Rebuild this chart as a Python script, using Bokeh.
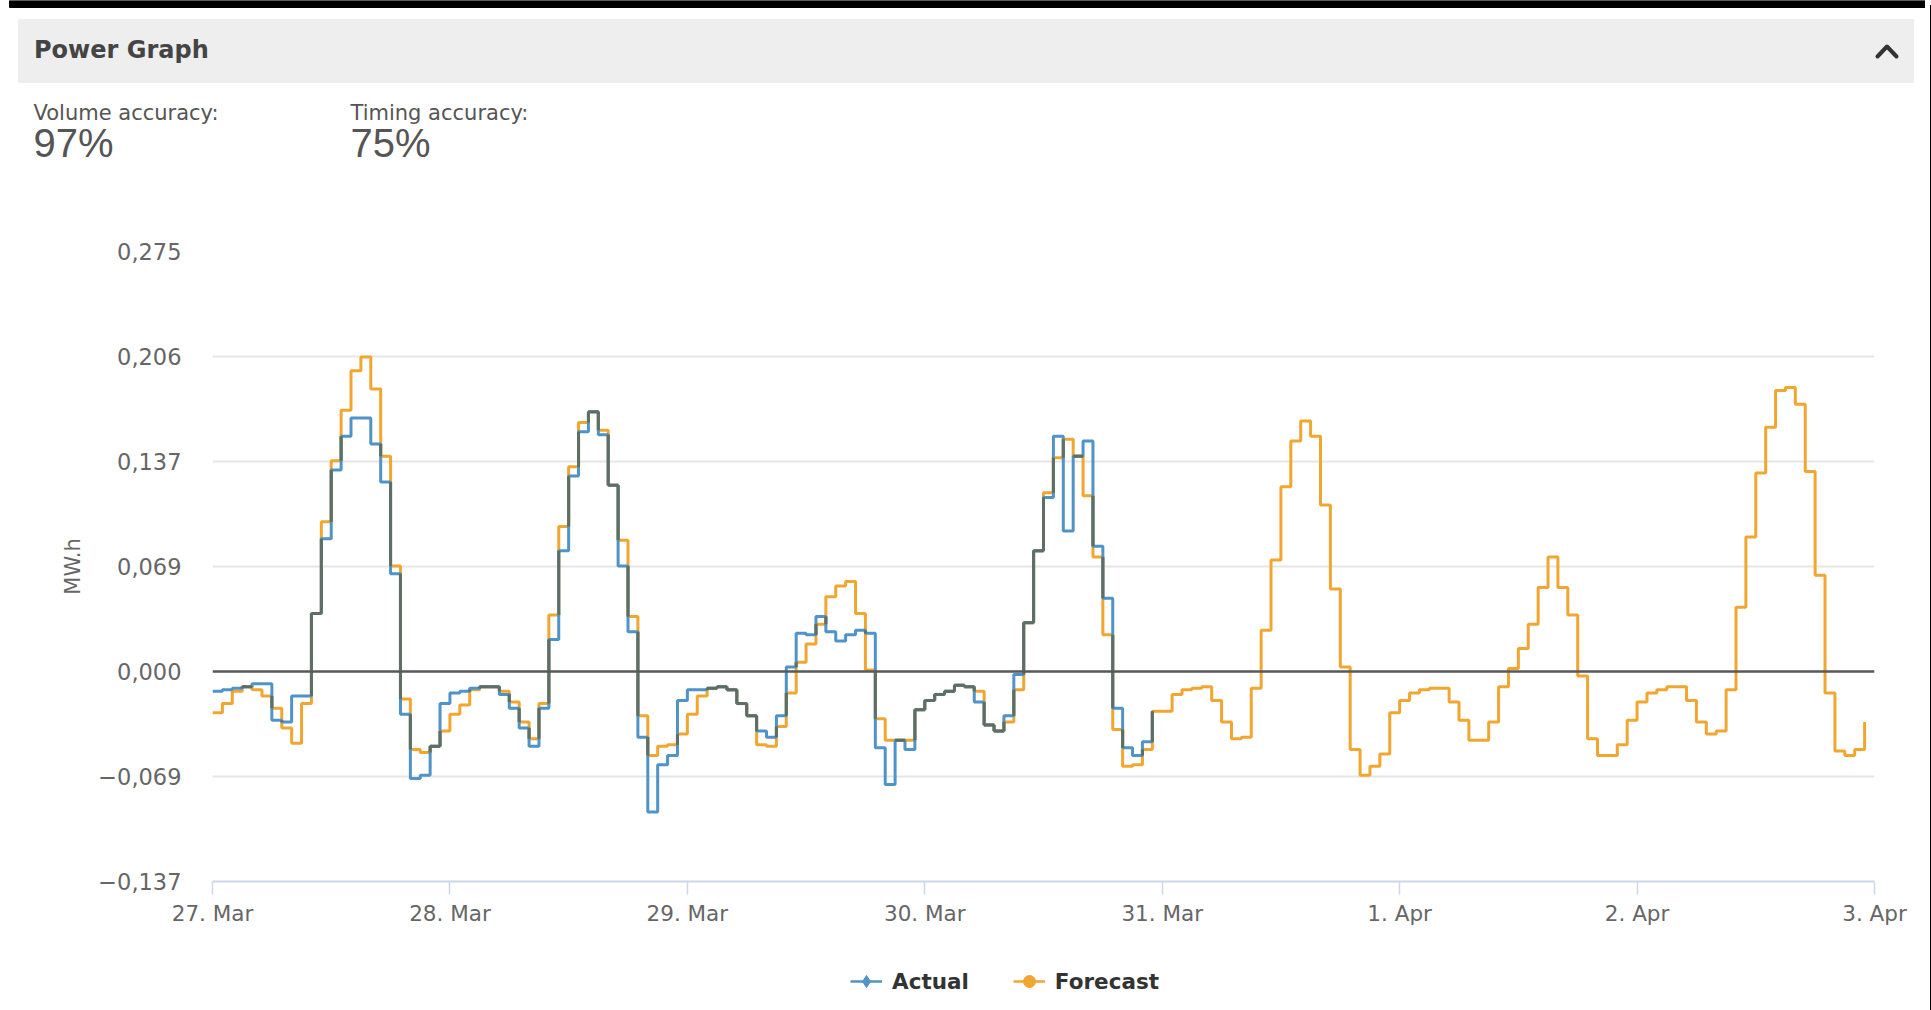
from bokeh.plotting import figure
from bokeh.models import Range1d, FixedTicker, Span, Legend, LegendItem, Div
from bokeh.layouts import column, row
from bokeh.embed import file_html
from bokeh.resources import INLINE
from bokeh.core.properties import value

# ---------------- data (MW.h, hourly from 27 Mar 00:00) ----------------
forecast = [
    -0.027, -0.021, -0.013, -0.010, -0.012, -0.016, -0.024, -0.037, -0.047, -0.021,
    0.038, 0.098, 0.138, 0.171, 0.197, 0.206, 0.185, 0.141, 0.069, -0.018,
    -0.051, -0.053, -0.049, -0.039,
    -0.028, -0.022, -0.012, -0.010, -0.010, -0.013, -0.020, -0.033, -0.044, -0.021,
    0.037, 0.095, 0.134, 0.163, 0.170, 0.158, 0.122, 0.086, 0.036, -0.029,
    -0.055, -0.049, -0.048, -0.041,
    -0.028, -0.016, -0.011, -0.010, -0.012, -0.021, -0.029, -0.048, -0.049, -0.036,
    -0.014, 0.006, 0.018, 0.031, 0.049, 0.056, 0.059, 0.038, 0.001, -0.031,
    -0.045, -0.045, -0.045, -0.025,
    -0.019, -0.015, -0.013, -0.009, -0.010, -0.013, -0.035, -0.039, -0.033, -0.012,
    0.032, 0.079, 0.117, 0.140, 0.152, 0.141, 0.115, 0.075, 0.024, -0.038,
    -0.062, -0.061, -0.051, -0.026,
    -0.026, -0.015, -0.012, -0.011, -0.010, -0.019, -0.033, -0.044, -0.043, -0.011,
    0.027, 0.073, 0.121, 0.151, 0.164, 0.154, 0.109, 0.054, 0.003, -0.051,
    -0.068, -0.062, -0.054, -0.027,
    -0.019, -0.014, -0.012, -0.011, -0.011, -0.020, -0.032, -0.045, -0.045, -0.033,
    -0.010, 0.002, 0.015, 0.031, 0.055, 0.075, 0.055, 0.037, -0.003, -0.044,
    -0.055, -0.055, -0.048, -0.032,
    -0.020, -0.014, -0.012, -0.010, -0.010, -0.019, -0.033, -0.041, -0.039, -0.012,
    0.042, 0.088, 0.130, 0.160, 0.184, 0.186, 0.175, 0.131, 0.063, -0.014,
    -0.052, -0.055, -0.051, -0.033,
]
actual = [
    -0.013, -0.012, -0.011, -0.010, -0.008, -0.008, -0.032, -0.033, -0.016, -0.016,
    0.038, 0.087, 0.132, 0.154, 0.166, 0.166, 0.149, 0.124, 0.064, -0.028,
    -0.070, -0.068, -0.049, -0.021,
    -0.014, -0.013, -0.011, -0.010, -0.010, -0.015, -0.024, -0.037, -0.049, -0.024,
    0.021, 0.079, 0.128, 0.157, 0.170, 0.155, 0.122, 0.069, 0.026, -0.043,
    -0.092, -0.061, -0.055, -0.019,
    -0.012, -0.012, -0.011, -0.010, -0.012, -0.021, -0.029, -0.039, -0.043, -0.029,
    0.003, 0.025, 0.024, 0.036, 0.026, 0.020, 0.024, 0.027, 0.025, -0.050,
    -0.074, -0.045, -0.051, -0.025,
    -0.019, -0.015, -0.013, -0.009, -0.010, -0.020, -0.035, -0.039, -0.029, -0.002,
    0.032, 0.079, 0.114, 0.154, 0.092, 0.141, 0.151, 0.082, 0.048, -0.024,
    -0.050, -0.055, -0.046, -0.026,
]
x_ticks = [0, 24, 48, 72, 96, 120, 144, 168]
x_tick_labels = ["27. Mar", "28. Mar", "29. Mar", "30. Mar", "31. Mar", "1. Apr", "2. Apr", "3. Apr"]
y_ticks = [-0.1375, -0.06875, 0.0, 0.06875, 0.1375, 0.20625, 0.275]
y_tick_labels = ["\u22120,137", "\u22120,069", "0,000", "0,069", "0,137", "0,206", "0,275"]
series_names = ["Actual", "Forecast"]
kpi_names = ["Volume accuracy:", "Timing accuracy:"]
kpi_values = ["97%", "75%"]

BLUE = "#4f93c7"
ORANGE = "#f1a630"
DARK = "#5f6e63"
FONT = "DejaVu Sans"
W = 1925


def no_align(fig):
    if "frame_align" in fig.properties():
        fig.frame_align = False


# ---------------- header ----------------
HH = 175
header = figure(width=W, height=HH, output_backend="svg", toolbar_location=None,
                x_range=Range1d(0, W), y_range=Range1d(HH, 0),
                x_axis_type=None, y_axis_type=None, min_border=0,
                outline_line_color=None, title=None)
no_align(header)
header.quad(left=[9], right=[W], top=[0], bottom=[7], color="#000000")
header.quad(left=[18], right=[1913], top=[19], bottom=[82], color="#eeeeee")
header.text(x=[33.5], y=[49], text=["Power Graph"], text_font=value(FONT),
            text_font_style="bold", text_font_size="24px", text_color="#444444",
            text_baseline="middle")
header.text(x=[33, 350], y=[112, 112], text=kpi_names,
            text_font=value(FONT), text_font_size="21px", text_color="#555555",
            text_baseline="middle")
header.text(x=[33, 350], y=[142, 142], text=kpi_values,
            text_font=value("Liberation Sans"), text_font_size="40px", text_color="#555555",
            text_baseline="middle")
header.line(x=[1877, 1886.5, 1896], y=[56, 46, 56], line_width=4, line_color="#333333",
            line_join="round", line_cap="round")

# ---------------- chart ----------------
CH = 770
p = figure(width=W, height=CH, output_backend="svg", toolbar_location=None, title=None,
           x_range=Range1d(0, 168), y_range=Range1d(-0.1375, 0.275),
           min_border_left=212, min_border_right=W - 1874, min_border_top=251 - HH,
           min_border_bottom=HH + CH - 881, outline_line_color=None)
no_align(p)

p.xgrid.grid_line_color = None
p.ygrid.grid_line_color = "#e6e6e6"
p.ygrid.grid_line_width = 2
p.ygrid.ticker = FixedTicker(ticks=y_ticks)

xa = p.xaxis[0]
xa.ticker = FixedTicker(ticks=x_ticks)
xa.major_label_overrides = dict(zip(x_ticks, x_tick_labels))
xa.axis_line_color = "#ccd6eb"
xa.axis_line_width = 2
xa.major_tick_line_color = "#ccd6eb"
xa.major_tick_line_width = 1.5
xa.major_tick_out = 13
xa.major_tick_in = 0
xa.minor_tick_line_color = None
xa.major_label_standoff = 6
xa.major_label_text_font = FONT
xa.major_label_text_font_size = "21.5px"
xa.major_label_text_color = "#666666"

ya = p.yaxis[0]
ya.ticker = FixedTicker(ticks=y_ticks)
ya.major_label_overrides = dict(zip(y_ticks, y_tick_labels))
ya.axis_line_color = None
ya.major_tick_line_color = None
ya.minor_tick_line_color = None
ya.major_tick_out = 0
ya.major_tick_in = 0
ya.major_label_standoff = 31
ya.major_label_text_font = FONT
ya.major_label_text_font_size = "22.5px"
ya.major_label_text_color = "#666666"
ya.axis_label = "MW.h"
ya.axis_label_text_font = FONT
ya.axis_label_text_font_size = "21px"
ya.axis_label_text_font_style = "normal"
ya.axis_label_text_color = "#666666"
ya.axis_label_standoff = 10

p.add_layout(Span(location=0, dimension="width", line_color="#5a5a5a", line_width=2.5))

hours_f = list(range(len(forecast)))
hours_a = list(range(len(actual)))

p.step(hours_f, forecast, mode="after", line_color=ORANGE, line_width=3)
p.step(hours_a, actual, mode="after", line_color=BLUE, line_width=3)

# segments where the two series coincide (drawn darker, as in the original)
ox, oy = [], []
for i in range(len(actual) - 1):
    if actual[i] == forecast[i]:
        ox.append([i, i + 1]); oy.append([actual[i], actual[i]])
for i in range(1, len(actual)):
    lo = max(min(actual[i - 1], actual[i]), min(forecast[i - 1], forecast[i]))
    hi = min(max(actual[i - 1], actual[i]), max(forecast[i - 1], forecast[i]))
    if hi > lo:
        ox.append([i, i]); oy.append([lo, hi])
p.multi_line(ox, oy, line_color=DARK, line_width=3)

# ---------------- footer with legend ----------------
FH = 1007 - HH - CH
footer = figure(width=W, height=FH, output_backend="svg", toolbar_location=None,
                x_range=Range1d(0, 1), y_range=Range1d(0, 1),
                x_axis_type=None, y_axis_type=None, min_border=0,
                outline_line_color=None, title=None)
no_align(footer)
# legend proxies (one point each, outside the visible range)
proxy = [-5]
la = footer.line(proxy, proxy, line_color=BLUE, line_width=2.5)
ma = footer.scatter(proxy, proxy, marker="diamond", size=12, color=BLUE)
lf = footer.line(proxy, proxy, line_color=ORANGE, line_width=2.5)
mf = footer.scatter(proxy, proxy, marker="circle", size=12, color=ORANGE)
legend = Legend(items=[LegendItem(label=series_names[0], renderers=[la, ma]),
                       LegendItem(label=series_names[1], renderers=[lf, mf])],
                orientation="horizontal", location=(850, FH - 36 - 15),
                border_line_color=None, background_fill_alpha=0,
                padding=0, margin=0, spacing=44, glyph_width=32, glyph_height=30,
                label_standoff=10, label_height=30,
                label_text_font=FONT, label_text_font_style="bold",
                label_text_font_size="21.5px", label_text_color="#333333")
footer.add_layout(legend)

edge = Div(width=3, height=1007, styles={"background-color": "#000000"})
layout = row(column(header, p, footer, spacing=0), edge, spacing=0)
open("out.html", "w").write(file_html(layout, INLINE))
